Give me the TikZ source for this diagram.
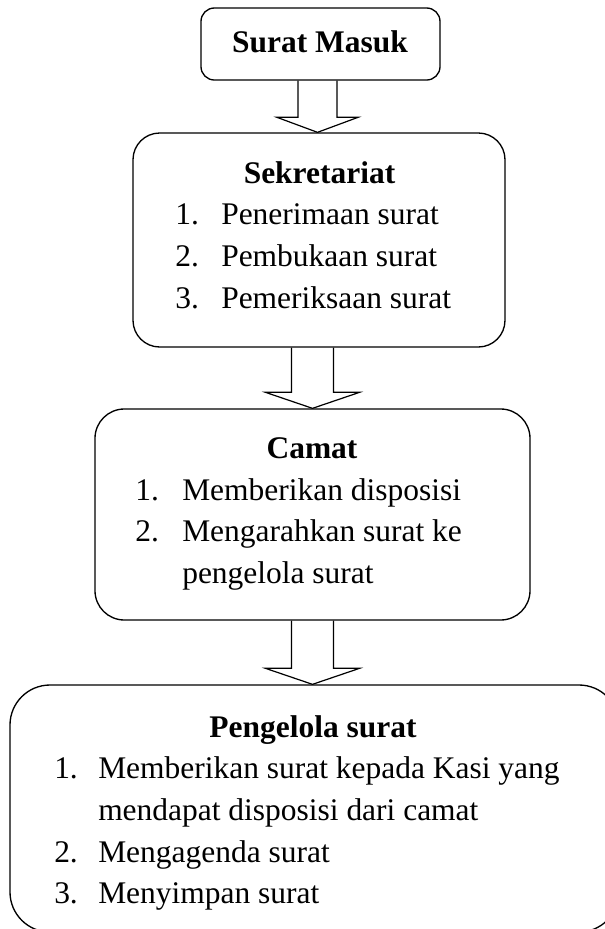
\documentclass[tikz,border=0pt]{standalone}
\usepackage{fontspec}
\setmainfont{Liberation Serif}
\usetikzlibrary{calc,fit}
\tikzset{
  box/.style={draw, line width=1pt, inner sep=0pt},
  head/.style={anchor=base, inner sep=0pt, font=\fontsize{23.6}{31}\selectfont\bfseries},
  item/.style={anchor=base west, inner sep=0pt, font=\fontsize{23.6}{31}\selectfont},
  arrowline/.style={draw, line width=0.9pt, line join=miter},
}
% #1 from node, #2 to node, #3 centre x (px), #4 shaft half width, #5 head half width, #6 head length
\newcommand\blockarrow[6]{%
  \path[arrowline] let \p1=(#1.south), \p2=(#2.north) in
    ({(#3-#4)*0.75pt},\y1) -- ({(#3-#4)*0.75pt},{\y2+#6*0.75pt}) --
    ({(#3-#5)*0.75pt},{\y2+#6*0.75pt}) -- ({#3*0.75pt},\y2) --
    ({(#3+#5)*0.75pt},{\y2+#6*0.75pt}) -- ({(#3+#4)*0.75pt},{\y2+#6*0.75pt}) --
    ({(#3+#4)*0.75pt},\y1);%
}
\begin{document}
\begin{tikzpicture}[x=0.75pt,y=-0.75pt]
\useasboundingbox (0,0) rectangle (604,929);
% boxes
\node[box, rounded corners=10pt, fit={(201,8) (440,80)}] (b1) {};
\node[box, rounded corners=20pt, fit={(133,133) (505,347)}] (b2) {};
\node[box, rounded corners=22pt, fit={(95,409) (530,620)}] (b3) {};
\node[box, rounded corners=30pt, fit={(10,685) (619,932)}] (b4) {};
% arrows
\blockarrow{b1}{b2}{317.5}{19.5}{40.5}{15}
\blockarrow{b2}{b3}{312.5}{21}{47}{16}
\blockarrow{b3}{b4}{312.5}{21}{47}{16}
% texts box 1
\node[head] (h1) at (320,52) {Surat Masuk};
% box 2
\node[head] (h2) at (319.5,183) {Sekretariat};
\node[item] (n21) at (175,224) {1.};
\node[item] (t21) at (221,224) {Penerimaan surat};
\node[item] (n22) at (175,266) {2.};
\node[item] (t22) at (221,266) {Pembukaan surat};
\node[item] (n23) at (175,308) {3.};
\node[item] (t23) at (221,308) {Pemeriksaan surat};
% box 3
\node[head] (h3) at (312,458) {Camat};
\node[item] (n31) at (135,500) {1.};
\node[item] (t31) at (182,500) {Memberikan disposisi};
\node[item] (n32) at (135,541) {2.};
\node[item] (t32) at (182,541) {Mengarahkan surat ke};
\node[item] (t32b) at (182,583) {pengelola surat};
% box 4
\node[head] (h4) at (313,737) {Pengelola surat};
\node[item] (n41) at (54,778) {1.};
\node[item] (t41) at (98,778) {Memberikan surat kepada Kasi yang};
\node[item] (t41b) at (98,820) {mendapat disposisi dari camat};
\node[item] (n42) at (54,862) {2.};
\node[item] (t42) at (98,862) {Mengagenda surat};
\node[item] (n43) at (54,903) {3.};
\node[item] (t43) at (98,903) {Menyimpan surat};
\end{tikzpicture}
\end{document}
